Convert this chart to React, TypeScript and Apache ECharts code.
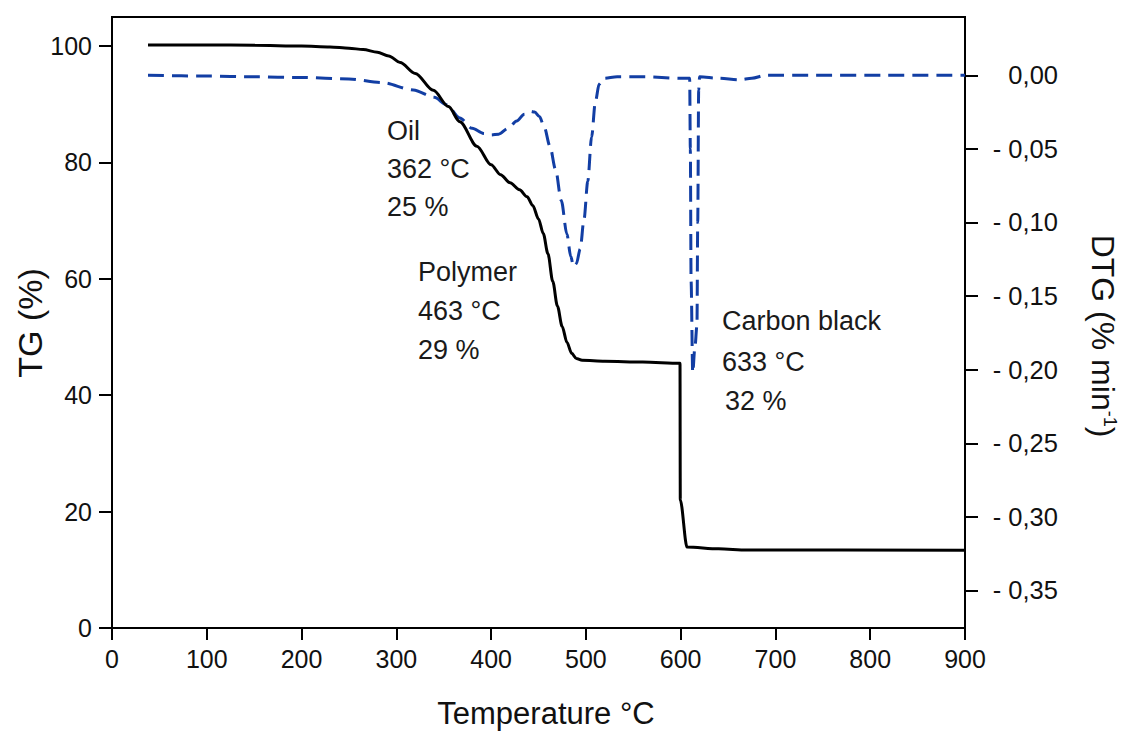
import React, { useEffect, useRef } from 'react';
import * as echarts from 'echarts';

// TG curve (left axis, %)
const tgTemp = [38, 100, 150, 200, 230, 250, 265, 280, 292, 304, 320, 339, 355, 367, 385, 400, 410, 420, 430, 438, 444, 450, 455, 460, 465, 470, 475, 480, 485, 490, 496, 520, 560, 599.3, 599.6, 606.7, 640, 670, 900];
const tgValue = [100.2, 100.2, 100.15, 100.0, 99.85, 99.65, 99.4, 98.95, 98.3, 97.2, 95.3, 92.4, 89.6, 87.0, 82.8, 79.6, 77.9, 76.5, 75.3, 74.1, 72.6, 70.3, 67.8, 64.3, 59.6, 55.3, 51.8, 49.1, 47.2, 46.3, 46.0, 45.85, 45.7, 45.5, 22.0, 13.9, 13.6, 13.4, 13.35];

// DTG curve (right axis, % min-1)
const dtgTemp = [38, 100, 150, 200, 250, 285, 318, 340, 353, 367, 380, 392, 400, 408, 418, 427, 435, 441, 446, 451, 456, 462, 468, 474, 480, 484, 487, 490, 494, 498, 502, 506, 510, 514, 519, 533, 560, 600, 609.5, 610.2, 611, 612.7, 615, 617.2, 618, 619, 620, 640, 662, 675, 690, 900];
const dtgValue = [0, -0.0005, -0.001, -0.0015, -0.0025, -0.005, -0.01, -0.015, -0.02, -0.029, -0.036, -0.0395, -0.0405, -0.04, -0.036, -0.031, -0.0265, -0.0245, -0.025, -0.028, -0.035, -0.048, -0.064, -0.085, -0.108, -0.123, -0.13, -0.128, -0.118, -0.098, -0.072, -0.042, -0.018, -0.006, -0.002, -0.001, -0.001, -0.002, -0.002, -0.05, -0.14, -0.202, -0.185, -0.17, -0.1, -0.01, -0.001, -0.002, -0.003, -0.002, 0, 0];

const tempTicks = [0, 100, 200, 300, 400, 500, 600, 700, 800, 900];
const tgTicks = [0, 20, 40, 60, 80, 100];
const dtgTicks = [0, -0.05, -0.1, -0.15, -0.2, -0.25, -0.3, -0.35];

const FONT = '"Liberation Sans", Arial, sans-serif';

export default function App() {
  const ref = useRef<HTMLDivElement>(null);
  useEffect(() => {
    document.body.style.margin = '0';
    const chart = echarts.init(ref.current!, null, { renderer: 'svg' });
    const tgData = tgTemp.map((t, i) => [t, tgValue[i]]);
    const dtgData = dtgTemp.map((t, i) => [t, dtgValue[i]]);
    const axisCommon = {
      axisLine: { show: true, lineStyle: { color: '#000', width: 2 } },
      splitLine: { show: false },
    };
    const annot = (text: string, x: number, y: number) => ({
      type: 'text', x, y,
      style: { text, fontSize: 27, fontFamily: FONT, fill: '#1a1a1a', align: 'left', verticalAlign: 'middle' },
    });
    chart.setOption({
      animation: false,
      backgroundColor: '#fff',
      grid: { left: 112, right: 158, top: 17, bottom: 105, show: true, borderColor: '#000', borderWidth: 2, containLabel: false },
      xAxis: {
        type: 'value', min: 0, max: 900, interval: 100,
        ...axisCommon,
        axisTick: { show: true, inside: false, length: 12, lineStyle: { color: '#000', width: 2 } },
        axisLabel: { margin: 18, fontSize: 25, fontFamily: FONT, color: '#111', customValues: tempTicks },
      },
      yAxis: [
        {
          type: 'value', min: 0, max: 105,
          ...axisCommon,
          axisTick: { show: true, length: 13, lineStyle: { color: '#000', width: 2 }, customValues: tgTicks },
          axisLabel: { margin: 20, fontSize: 25, fontFamily: FONT, color: '#111', customValues: tgTicks },
        },
        {
          type: 'value', min: -0.3755, max: 0.0396, position: 'right',
          ...axisCommon,
          axisTick: { show: true, length: 13, lineStyle: { color: '#000', width: 2 }, customValues: dtgTicks },
          axisLabel: {
            margin: 93, align: 'right', fontSize: 25.5, fontFamily: FONT, color: '#111', customValues: dtgTicks,
            formatter: (v: number) => (Math.abs(v) < 1e-9 ? '0,00' : '- ' + Math.abs(v).toFixed(2).replace('.', ',')),
          },
        },
      ],
      series: [
        {
          type: 'line', name: 'TG', data: tgData, yAxisIndex: 0, showSymbol: false,
          smooth: 0.3, smoothMonotone: 'x',
          lineStyle: { color: '#000', width: 3 }, z: 3,
        },
        {
          type: 'line', name: 'DTG', data: dtgData, yAxisIndex: 1, showSymbol: false,
          smooth: 0.3, smoothMonotone: 'x',
          lineStyle: { color: '#123ea4', width: 3, type: [16, 8] }, z: 2,
        },
      ],
      graphic: [
        annot('Oil', 387, 131),
        annot('362 °C', 387, 169),
        annot('25 %', 387, 207),
        annot('Polymer', 418, 272),
        annot('463 °C', 418, 311),
        annot('29 %', 418, 350),
        annot('Carbon black', 722, 321),
        annot('633 °C', 722, 362),
        annot('32 %', 725, 401),
        {
          type: 'text', x: 30, y: 323, rotation: Math.PI / 2,
          style: { text: 'TG (%)', fontSize: 34, fontFamily: FONT, fill: '#111', align: 'center', verticalAlign: 'middle' },
        },
        {
          type: 'text', x: 546, y: 713,
          style: { text: 'Temperature °C', fontSize: 31, fontFamily: FONT, fill: '#111', align: 'center', verticalAlign: 'middle' },
        },
        {
          type: 'text', x: 1103, y: 336, rotation: -Math.PI / 2,
          style: {
            text: 'DTG (% min{sup|-1})', fontSize: 32, fontFamily: FONT, fill: '#111', align: 'center', verticalAlign: 'middle',
            rich: { sup: { fontSize: 18, fontFamily: FONT, fill: '#111', verticalAlign: 'top', lineHeight: 18 } },
          },
        },
      ],
    });
    return () => chart.dispose();
  }, []);
  return <div ref={ref} style={{ width: 1123, height: 733 }} />;
}
